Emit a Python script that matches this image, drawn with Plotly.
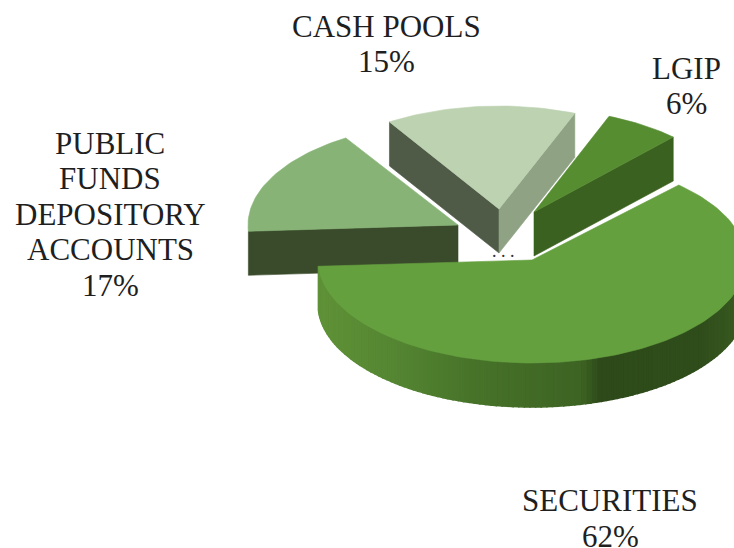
import math
import plotly.graph_objects as go

# Data (clockwise order)
categories = ["SECURITIES", "PUBLIC FUNDS DEPOSITORY ACCOUNTS", "CASH POOLS", "LGIP"]
values = [62, 17, 15, 6]
label_lines = [["SECURITIES"], ["PUBLIC", "FUNDS", "DEPOSITORY", "ACCOUNTS"], ["CASH POOLS"], ["LGIP"]]

# Projection and styling
W, H = 734, 548
RXS = [214, 210, 205, 203]
RY, DEPTH = 103, 44
START = 43.3              # clockwise from top, where the first slice begins
TIPS = [(532, 260), (458, 225), (499, 209), (534, 212)]
TOP_COL = ["#65a03f", "#87b476", "#bcd2b0", "#558d30"]
LABEL_POS = [(610, 500), (110, 143), (386, 26), (686, 68)]
LINE_GAP = 35.5
WALL_COL = {1: {"start": "#3a4b2b"},
            2: {"start": "#4f5a47", "end": "#8fa384"},
            3: {"end": "#3a611f"}}
GRAD = [(318, (96, 146, 56)), (400, (84, 133, 50)), (470, (72, 116, 42)),
        (580, (62, 100, 36)), (600, (46, 74, 26)), (700, (48, 78, 28)), (744, (58, 92, 34))]
FONT = "Liberation Serif, Times New Roman, serif"
FS = 31


def rim(tip, rx, deg):
    a = math.radians(deg)
    return tip[0] + rx * math.sin(a), tip[1] - RY * math.cos(a)


def grad_col(x):
    for (x0, c0), (x1, c1) in zip(GRAD, GRAD[1:]):
        if x <= x1:
            t = max(0, (x - x0) / (x1 - x0))
            return "rgb(%d,%d,%d)" % tuple(c0[i] + t * (c1[i] - c0[i]) for i in range(3))
    return "rgb(%d,%d,%d)" % GRAD[-1][1]


def poly(xs, ys, col, lw=0.6):
    return go.Scatter(x=xs + xs[:1], y=ys + ys[:1], mode="lines", fill="toself", fillcolor=col,
                      line=dict(color=col, width=lw), hoverinfo="skip", showlegend=False)


# Slice spans, running clockwise from START
spans = []
a = START
for v in values:
    sweep = v * 3.6
    spans.append((a, a + sweep))
    a += sweep

traces = []
for idx in [1, 2, 3, 0]:
    tip = TIPS[idx]
    s, e = spans[idx]
    n = max(8, int((e - s) / 1.5))
    angs = [s + (e - s) * k / n for k in range(n + 1)]
    arc = [rim(tip, RXS[idx], d) for d in angs]
    walls = WALL_COL.get(idx, {})
    for key, p in (("start", arc[0]), ("end", arc[-1])):
        if key in walls:
            traces.append(poly([tip[0], p[0], p[0], tip[0]],
                               [tip[1], p[1], p[1] + DEPTH, tip[1] + DEPTH], walls[key]))
    if idx == 0:
        for (x0, y0), (x1, y1) in zip(arc, arc[1:]):
            if y0 < tip[1] - 5 and y1 < tip[1] - 5:
                continue
            traces.append(poly([x0, x1, x1, x0], [y0, y1, y1 + DEPTH, y0 + DEPTH],
                               grad_col((x0 + x1) / 2), lw=1.5))
    traces.append(poly([tip[0]] + [p[0] for p in arc], [tip[1]] + [p[1] for p in arc], TOP_COL[idx]))

fig = go.Figure(traces)

for lines, v, (lx, ly) in zip(label_lines, values, LABEL_POS):
    for k, line in enumerate(lines + [f"{v}%"]):
        y = ly + k * LINE_GAP
        # a tight box keeps the bottom line inside the page
        box = dict(height=24) if y + FS * 0.65 > H else {}
        fig.add_annotation(x=lx, y=y, text=line, showarrow=False,
                           font=dict(family=FONT, size=FS, color="#1f1f1f"), align="center", **box)
fig.add_annotation(x=503, y=251, text=". . .", showarrow=False,
                   font=dict(family=FONT, size=18, color="#333333"))

fig.update_layout(width=W, height=H, margin=dict(l=0, r=0, t=0, b=0),
                  paper_bgcolor="white", plot_bgcolor="white", showlegend=False,
                  xaxis=dict(range=[0, W], visible=False, fixedrange=True),
                  yaxis=dict(range=[H, 0], visible=False, fixedrange=True))
fig.write_html("out.html", config={"displayModeBar": False},
               post_script="document.body.style.margin='0';document.documentElement.style.overflow='hidden';")
